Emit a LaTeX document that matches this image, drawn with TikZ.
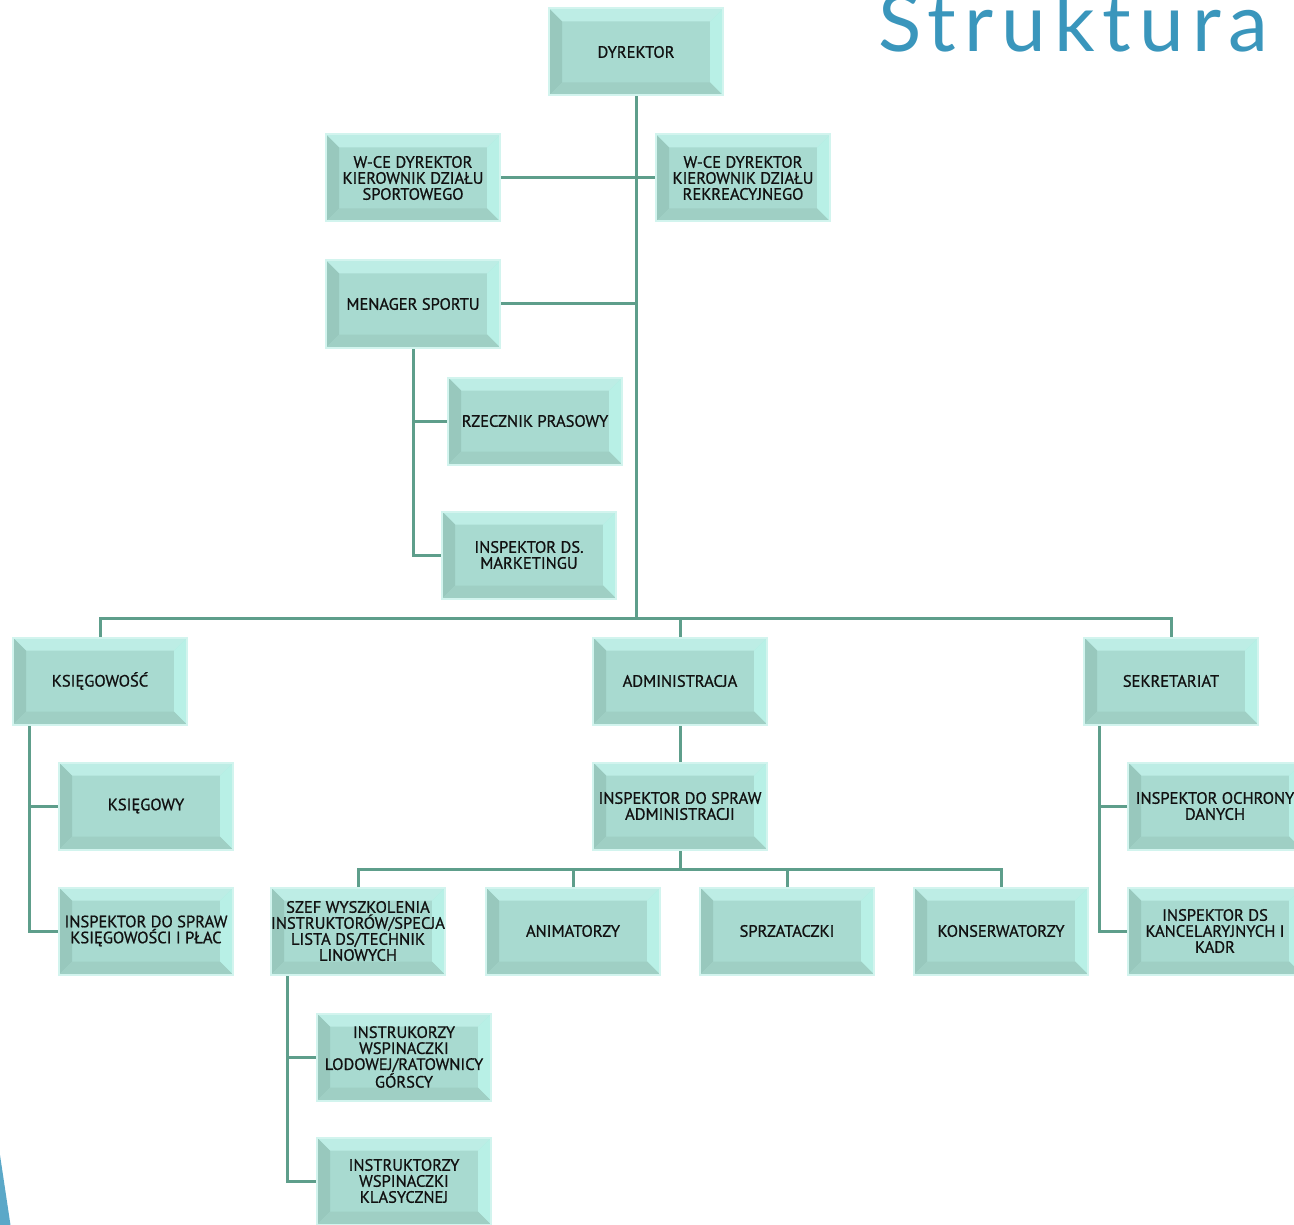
\documentclass[tikz,border=0pt]{standalone}
\usepackage{fontspec}
\setmainfont{PT Sans}
\newfontfamily\boxfont[FakeBold=0.8]{PT Sans}
\newfontfamily\titlefont[LetterSpace=10]{Lato}
\usetikzlibrary{backgrounds}
\definecolor{face}{HTML}{A8DAD0}
\definecolor{bvtop}{HTML}{BDEDE5}
\definecolor{bvleft}{HTML}{98C8BD}
\definecolor{bvright}{HTML}{B8F0E6}
\definecolor{bvbot}{HTML}{9FCFC4}
\definecolor{bord}{HTML}{D2F4EE}
\definecolor{conn}{HTML}{5E9E8B}
\definecolor{titlec}{HTML}{3A96BC}
\definecolor{wedge}{HTML}{5BA8C8}
\definecolor{txt}{HTML}{111111}
\tikzset{
  bx/.style={rectangle, minimum width=174pt, minimum height=87pt, inner sep=0pt,
    fill=face, draw=bord, line width=2pt, align=center, text=txt,
    font=\boxfont\fontsize{16.5pt}{16pt}\selectfont,
    path picture={
      \coordinate (pSW) at (path picture bounding box.south west);
      \coordinate (pNE) at (path picture bounding box.north east);
      \coordinate (pNW) at (path picture bounding box.north west);
      \coordinate (pSE) at (path picture bounding box.south east);
      \coordinate (qSW) at ([shift={(13pt,13pt)}]pSW);
      \coordinate (qNE) at ([shift={(-13pt,-13pt)}]pNE);
      \coordinate (qNW) at ([shift={(13pt,-13pt)}]pNW);
      \coordinate (qSE) at ([shift={(-13pt,13pt)}]pSE);
      \fill[bvtop] (pNW)--(pNE)--(qNE)--(qNW)--cycle;
      \fill[bvleft] (pNW)--(qNW)--(qSW)--(pSW)--cycle;
      \fill[bvright] (pNE)--(pSE)--(qSE)--(qNE)--cycle;
      \fill[bvbot] (pSW)--(qSW)--(qSE)--(pSE)--cycle;
    }},
  cn/.style={draw=conn, line width=3pt}
}
\begin{document}
\begin{tikzpicture}[x=1pt,y=-1pt]
\useasboundingbox (0,0) rectangle (1294,1225);
% nodes
\node[bx] (dyr) at (636,52) {DYREKTOR};
\node[bx] (wl) at (413,178) {W-CE DYREKTOR\\KIEROWNIK DZIAŁU\\SPORTOWEGO};
\node[bx] (wr) at (743,178) {W-CE DYREKTOR\\KIEROWNIK DZIAŁU\\REKREACYJNEGO};
\node[bx] (men) at (413,304) {MENAGER SPORTU};
\node[bx] (rz) at (535,421) {RZECZNIK PRASOWY};
\node[bx] (mk) at (529,555) {INSPEKTOR DS.\\MARKETINGU};
\node[bx] (ksg) at (100,681) {KSIĘGOWOŚĆ};
\node[bx] (adm) at (680,681) {ADMINISTRACJA};
\node[bx] (sek) at (1171,681) {SEKRETARIAT};
\node[bx] (kw) at (146,806) {KSIĘGOWY};
\node[bx] (kp) at (146,931) {INSPEKTOR DO SPRAW\\KSIĘGOWOŚCI I PŁAC};
\node[bx] (iadm) at (680,806) {INSPEKTOR DO SPRAW\\ADMINISTRACJI};
\node[bx] (szef) at (358,931) {SZEF WYSZKOLENIA\\INSTRUKTORÓW/SPECJA\\LISTA DS/TECHNIK\\LINOWYCH};
\node[bx] (anim) at (573,931) {ANIMATORZY};
\node[bx] (sprz) at (787,931) {SPRZATACZKI};
\node[bx] (kons) at (1001,931) {KONSERWATORZY};
\node[bx] (iod) at (1215,806) {INSPEKTOR OCHRONY\\DANYCH};
\node[bx] (ikk) at (1215,931) {INSPEKTOR DS\\KANCELARYJNYCH I\\KADR};
\node[bx] (in1) at (404,1057) {INSTRUKORZY\\WSPINACZKI\\LODOWEJ/RATOWNICY\\GÓRSCY};
\node[bx] (in2) at (404,1181) {INSTRUKTORZY\\WSPINACZKI\\KLASYCZNEJ};
% title
\node[anchor=base west, inner sep=0pt, text=titlec, font=\titlefont\fontsize{80pt}{80pt}\selectfont] (title) at (878,52) {Struktura};
\coordinate (bus) at (636,618);
\coordinate (bus2) at (680,869);
\begin{scope}[on background layer]
\fill[white] (0,0) rectangle (1294,1225);
\fill[wedge] (0,1155) -- (10.5,1225) -- (0,1225) -- cycle;
\draw[cn] (dyr.south) -- (bus);
\draw[cn] (wl.east) -- (wr.west);
\draw[cn] (men.east) -- (men.east -| dyr.south);
\draw[cn] (men.south) |- (rz.west);
\draw[cn] (men.south) |- (mk.west);
\draw[cn] (ksg.north) -- (ksg.north |- bus) -- (sek.north |- bus) -- (sek.north);
\draw[cn] (adm.north) -- (adm.north |- bus);
\draw[cn] ([xshift=17pt]ksg.south west) |- (kw.west);
\draw[cn] ([xshift=17pt]ksg.south west) |- (kp.west);
\draw[cn] (adm.south) -- (iadm.north);
\draw[cn] (iadm.south) -- (bus2);
\draw[cn] (szef.north) -- (szef.north |- bus2) -- (kons.north |- bus2) -- (kons.north);
\draw[cn] (anim.north) -- (anim.north |- bus2);
\draw[cn] (sprz.north) -- (sprz.north |- bus2);
\draw[cn] ([xshift=16pt]sek.south west) |- (iod.west);
\draw[cn] ([xshift=16pt]sek.south west) |- (ikk.west);
\draw[cn] ([xshift=17pt]szef.south west) |- (in1.west);
\draw[cn] ([xshift=17pt]szef.south west) |- (in2.west);
\end{scope}
\end{tikzpicture}
\end{document}
